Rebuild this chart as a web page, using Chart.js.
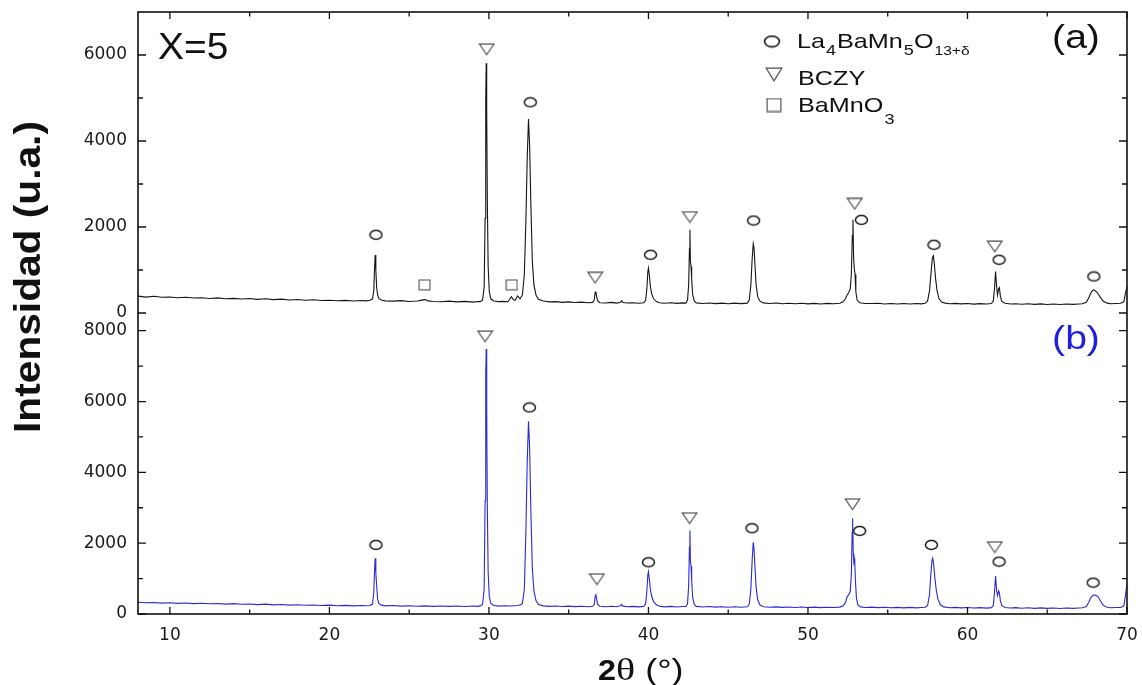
<!DOCTYPE html>
<html>
<head>
<meta charset="utf-8">
<script src="https://cdn.jsdelivr.net/npm/chart.js@4.4.1/dist/chart.umd.min.js"></script>
<style>
html,body{margin:0;padding:0;background:#fff;}
#wrap{position:relative;width:1142px;height:685px;}
canvas{display:block;}
</style>
</head>
<body>
<div id="wrap"><canvas id="c" width="1142" height="685"></canvas></div>
<script>
// ---- Data (2θ in degrees, intensity in a.u.) ----
const patternA = [
[8.0,392],[8.5,370],[9.0,388],[9.5,366],[10.0,372],[10.5,354],[11.0,366],[11.5,348],[12.0,356],[12.5,338],
[13.0,352],[13.5,332],[14.0,340],[14.5,326],[15.0,336],[15.5,318],[16.0,330],[16.5,310],[17.0,322],[17.5,302],
[18.0,314],[18.5,296],[19.0,308],[19.5,290],[20.0,298],[20.5,284],[21.0,294],[21.5,280],[22.0,290],[22.3,282],
[22.55,295],[22.70,330],[22.78,520],[22.83,1050],[22.87,1350],[22.91,1000],[22.96,600],[23.02,420],[23.10,340],[23.25,300],
[23.5,282],[24.0,276],[24.5,288],[25.0,268],[25.5,280],[25.8,300],[26.0,312],[26.2,282],[26.5,268],[27.0,262],
[27.5,276],[28.0,258],[28.5,270],[29.0,254],[29.3,266],[29.45,265],[29.6,300],[29.7,600],[29.76,2200],[29.80,5000],
[29.83,5810],[29.86,4700],[29.90,2600],[29.95,1100],[30.02,500],[30.12,330],[30.3,280],[30.6,264],[30.9,270],[31.2,262],
[31.4,380],[31.55,305],[31.65,300],[31.8,395],[31.95,330],[32.10,420],[32.22,900],[32.32,2200],[32.40,3600],[32.48,4510],
[32.55,3900],[32.63,2500],[32.72,1200],[32.82,650],[32.95,420],[33.1,320],[33.4,280],[33.8,258],[34.2,264],[34.6,248],
[35.0,258],[35.4,244],[35.8,254],[36.2,240],[36.5,246],[36.6,300],[36.66,480],[36.70,500],[36.75,380],[36.82,280],
[36.95,240],[37.3,232],[37.7,246],[38.0,230],[38.25,250],[38.32,285],[38.4,245],[38.7,232],[39.0,240],[39.4,228],
[39.7,240],[39.82,290],[39.9,560],[39.96,950],[40.0,1045],[40.05,900],[40.12,620],[40.2,450],[40.32,330],[40.5,265],
[40.7,240],[41.0,228],[41.4,240],[41.8,224],[42.1,236],[42.35,230],[42.45,300],[42.52,650],[42.57,1500],[42.60,1935],
[42.63,1200],[42.67,1080],[42.71,800],[42.77,430],[42.87,280],[43.0,235],[43.4,222],[43.8,234],[44.2,218],[44.6,230],
[45.0,216],[45.4,230],[45.8,218],[46.2,230],[46.32,300],[46.42,650],[46.50,1250],[46.57,1610],[46.62,1500],[46.68,1100],
[46.75,650],[46.85,380],[46.98,280],[47.2,235],[47.6,220],[48.0,232],[48.4,216],[48.8,228],[49.2,214],[49.6,226],
[50.0,212],[50.4,224],[50.8,210],[51.2,224],[51.6,214],[52.0,225],[52.2,260],[52.35,330],[52.45,420],[52.55,470],
[52.65,560],[52.72,900],[52.78,1800],[52.82,2170],[52.86,1300],[52.90,1050],[52.95,900],[53.0,500],[53.08,300],[53.25,240],
[53.6,222],[54.0,220],[54.4,226],[54.8,210],[55.2,222],[55.6,208],[56.0,220],[56.4,208],[56.8,222],[57.1,212],
[57.35,225],[57.5,280],[57.62,520],[57.72,950],[57.80,1280],[57.86,1330],[57.92,1150],[58.0,800],[58.1,500],[58.22,330],
[58.4,250],[58.6,230],[58.9,216],[59.2,224],[59.6,212],[60.0,222],[60.4,206],[60.8,218],[61.2,208],[61.5,220],
[61.62,280],[61.7,600],[61.76,967],[61.82,650],[61.88,420],[61.95,560],[62.0,590],[62.06,400],[62.15,270],[62.35,225],
[62.7,210],[63.0,216],[63.4,204],[63.8,214],[64.2,200],[64.6,212],[65.0,198],[65.4,210],[65.8,196],[66.2,208],
[66.6,200],[67.0,210],[67.2,215],[67.45,250],[67.6,350],[67.75,480],[67.9,541],[68.0,520],[68.15,470],[68.3,380],
[68.5,280],[68.75,230],[69.0,216],[69.3,222],[69.6,225],[69.8,260],[69.9,450],[70.0,620]
];
const patternB = [
[8.0,330],[8.5,316],[9.0,326],[9.5,306],[10.0,318],[10.5,300],[11.0,310],[11.5,292],[12.0,304],[12.5,288],
[13.0,298],[13.5,280],[14.0,292],[14.5,274],[15.0,284],[15.5,266],[16.0,278],[16.5,258],[17.0,270],[17.5,252],
[18.0,262],[18.5,246],[19.0,256],[19.5,240],[20.0,250],[20.5,234],[21.0,244],[21.5,230],[22.0,240],[22.3,232],
[22.55,240],[22.70,280],[22.78,600],[22.83,1250],[22.87,1575],[22.91,1150],[22.96,820],[23.02,420],[23.10,300],[23.25,250],
[23.5,230],[24.0,238],[24.5,222],[25.0,232],[25.5,218],[26.0,230],[26.5,216],[27.0,228],[27.5,214],[28.0,226],
[28.5,212],[29.0,224],[29.3,216],[29.45,230],[29.6,270],[29.7,700],[29.76,3200],[29.80,6800],[29.83,7480],[29.86,5800],
[29.90,3000],[29.95,1200],[30.02,500],[30.12,300],[30.3,240],[30.6,222],[31.0,232],[31.4,224],[31.8,240],[32.0,260],
[32.1,300],[32.22,700],[32.32,2400],[32.40,4300],[32.48,5440],[32.55,4700],[32.63,2900],[32.72,1300],[32.82,650],[32.95,380],
[33.1,270],[33.4,230],[33.8,214],[34.2,226],[34.6,210],[35.0,222],[35.4,208],[35.8,220],[36.2,206],[36.5,220],
[36.6,260],[36.66,500],[36.70,565],[36.75,420],[36.82,270],[36.95,220],[37.3,206],[37.7,220],[38.0,204],[38.25,230],
[38.32,270],[38.4,222],[38.7,206],[39.0,214],[39.4,202],[39.7,215],[39.82,280],[39.9,650],[39.96,1100],[40.0,1196],
[40.05,1000],[40.12,700],[40.2,500],[40.32,350],[40.5,260],[40.7,220],[41.0,202],[41.4,214],[41.8,198],[42.1,210],
[42.35,212],[42.45,290],[42.52,800],[42.57,1900],[42.60,2355],[42.63,1500],[42.67,1350],[42.71,950],[42.77,480],[42.87,270],
[43.0,215],[43.4,198],[43.8,210],[44.2,194],[44.6,206],[45.0,192],[45.4,204],[45.8,190],[46.2,205],[46.32,280],
[46.42,700],[46.50,1500],[46.57,2027],[46.62,1850],[46.68,1300],[46.75,750],[46.85,400],[46.98,260],[47.2,205],[47.6,190],
[48.0,202],[48.4,186],[48.8,198],[49.2,184],[49.6,196],[50.0,182],[50.4,194],[50.8,180],[51.2,192],[51.6,182],
[52.0,195],[52.2,230],[52.35,320],[52.45,480],[52.55,540],[52.65,640],[52.72,1100],[52.77,2300],[52.80,2705],[52.84,1700],
[52.88,1450],[52.93,1527],[52.98,900],[53.04,450],[53.12,260],[53.3,200],[53.6,184],[54.0,194],[54.4,180],[54.8,190],
[55.2,176],[55.6,188],[56.0,174],[56.4,186],[56.8,172],[57.1,184],[57.35,190],[57.5,240],[57.62,550],[57.70,1100],
[57.77,1500],[57.82,1574],[57.88,1400],[57.96,1000],[58.05,650],[58.15,420],[58.3,260],[58.5,200],[58.9,178],[59.2,186],
[59.6,172],[60.0,182],[60.4,168],[60.8,180],[61.2,166],[61.5,180],[61.62,240],[61.7,650],[61.76,1074],[61.82,700],
[61.88,520],[61.95,650],[62.0,600],[62.06,380],[62.15,240],[62.35,185],[62.7,170],[63.0,180],[63.4,164],[63.8,176],
[64.2,160],[64.6,172],[65.0,158],[65.4,170],[65.8,156],[66.2,168],[66.6,158],[67.0,170],[67.2,175],[67.45,210],
[67.6,330],[67.75,480],[67.9,537],[68.05,530],[68.2,480],[68.35,360],[68.5,250],[68.75,190],[69.0,176],[69.3,184],
[69.6,185],[69.8,230],[69.9,520],[70.0,848]
];
// Phase markers: [2θ, intensity position]
const circlesA   = [[22.92,1819],[32.59,4901],[40.13,1354],[46.59,2151],[53.35,2167],[57.9,1587],[61.98,1238],[67.92,850]];
const trianglesA = [[29.86,6132],[36.66,820],[42.6,2230],[52.93,2539],[61.71,1547]];
const squaresA   = [[25.96,655],[31.43,655]];
const circlesB   = [[22.92,1951],[32.54,5832],[40.0,1461],[46.49,2422],[53.24,2346],[57.74,1951],[61.98,1479],[67.88,885]];
const trianglesB = [[29.76,7839],[36.77,981],[42.58,2705],[52.79,3101],[61.71,1885]];
// Axis ranges and ticks
const xRange = [8, 70];
const yRangeA = [0, 7000];
const yRangeB = [0, 8500];
const xMajor = [10,20,30,40,50,60,70];
const xMinor = [15,25,35,45,55,65];
const yMajorA = [0,2000,4000,6000];
const yMinorA = [1000,3000,5000];
const yMajorB = [0,2000,4000,6000,8000];
const yMinorB = [1000,3000,5000,7000];
const legendLabels = ['La4BaMn5O13+δ', 'BCZY', 'BaMnO3'];

// ---- marker sprites (style only) ----
function makeCircle(w, h, lw, col) {
  const c = document.createElement('canvas'); c.width = w; c.height = h;
  const g = c.getContext('2d'); g.strokeStyle = col; g.lineWidth = lw;
  g.beginPath(); g.ellipse(w/2, h/2, w/2 - lw, h/2 - lw, 0, 0, Math.PI*2); g.stroke();
  return c;
}
function makeTri(w, h, lw, col) {
  const c = document.createElement('canvas'); c.width = w; c.height = h;
  const g = c.getContext('2d'); g.strokeStyle = col; g.lineWidth = lw; g.lineJoin = 'miter';
  g.beginPath(); g.moveTo(lw, lw); g.lineTo(w - lw, lw); g.lineTo(w/2, h - lw); g.closePath(); g.stroke();
  return c;
}
function makeSq(w, h, lw, col) {
  const c = document.createElement('canvas'); c.width = w; c.height = h;
  const g = c.getContext('2d'); g.strokeStyle = col; g.lineWidth = lw;
  g.strokeRect(lw/2 + 0.5, lw/2 + 0.5, w - lw - 1, h - lw - 1);
  return c;
}
const circImg = makeCircle(15, 12, 1.5, '#1a1a1a');
const triImg  = makeTri(17, 13, 1.1, '#4a4a4a');
const sqImg   = makeSq(13, 12, 1.1, '#555');
const circLeg = makeCircle(18, 14, 1.6, '#1a1a1a');
const triLeg  = makeTri(18, 15, 1.2, '#4a4a4a');
const sqLeg   = makeSq(16, 15, 1.2, '#555');

const toXY = arr => arr.map(p => ({x: p[0], y: p[1]}));
const lineDs = (data, axis, color) => ({data: toXY(data), yAxisID: axis, showLine: true, borderColor: color,
  borderWidth: 1.1, pointRadius: 0, fill: false, tension: 0, order: 2});
const markDs = (data, axis, img) => ({data: toXY(data), yAxisID: axis, showLine: false, pointStyle: img,
  pointRadius: 6, pointHoverRadius: 6, order: 1});

function stretchText(ctx, txt, x, y, font, color, sx, align) {
  ctx.save(); ctx.font = font; ctx.fillStyle = color; ctx.textBaseline = 'alphabetic';
  ctx.translate(x, y); ctx.scale(sx, 1); ctx.textAlign = align || 'left';
  ctx.fillText(txt, 0, 0);
  const w = ctx.measureText(txt).width * sx;
  ctx.restore();
  return w;
}

const decor = {
  id: 'decor',
  afterDraw(chart) {
    const ctx = chart.ctx;
    const xs = chart.scales.x, ya = chart.scales.yA, yb = chart.scales.yB;
    const L = chart.chartArea.left, R = chart.chartArea.right, T = chart.chartArea.top, B = chart.chartArea.bottom;
    ctx.save();
    ctx.strokeStyle = '#111'; ctx.lineWidth = 1.6;
    ctx.strokeRect(L, T, R - L, B - T);
    ctx.lineWidth = 1.3;
    const hTick = (y, len) => { ctx.beginPath(); ctx.moveTo(L, y); ctx.lineTo(L + len, y); ctx.moveTo(R, y); ctx.lineTo(R - len, y); ctx.stroke(); };
    const vTick = (x, len) => { ctx.beginPath(); ctx.moveTo(x, T); ctx.lineTo(x, T + len); ctx.moveTo(x, B); ctx.lineTo(x, B - len); ctx.stroke(); };
    yMajorA.forEach(v => hTick(ya.getPixelForValue(v), 8));
    yMinorA.forEach(v => hTick(ya.getPixelForValue(v), 5));
    yMajorB.forEach(v => hTick(yb.getPixelForValue(v), 8));
    yMinorB.forEach(v => hTick(yb.getPixelForValue(v), 5));
    xMajor.forEach(v => vTick(xs.getPixelForValue(v), 7));
    xMinor.forEach(v => vTick(xs.getPixelForValue(v), 4.5));
    ctx.restore();

    // panel labels
    stretchText(ctx, 'X=5', 158, 59, '36px "Liberation Sans", Arial, sans-serif', '#111', 1.08);
    stretchText(ctx, '(a)', 1076, 48, '34px "Liberation Sans", Arial, sans-serif', '#111', 1.15, 'center');
    stretchText(ctx, '(b)', 1076, 349, '34px "Liberation Sans", Arial, sans-serif', '#1f1fe0', 1.15, 'center');

    // legend
    ctx.drawImage(circLeg, 772 - 9, 41.5 - 7);
    ctx.drawImage(triLeg, 774 - 9, 74.5 - 7.5);
    ctx.drawImage(sqLeg, 774 - 8, 105 - 7.5);
    const f1 = '21px "Liberation Sans", Arial, sans-serif';
    const fs = '15px "Liberation Sans", Arial, sans-serif';
    const fss = '13px "Liberation Sans", Arial, sans-serif';
    const sx = 1.2;
    let x = 797;
    x += stretchText(ctx, 'La', x, 48, f1, '#111', sx);
    x += stretchText(ctx, '4', x + 1, 55, fs, '#111', sx) + 1;
    x += stretchText(ctx, 'BaMn', x + 1, 48, f1, '#111', sx) + 1;
    x += stretchText(ctx, '5', x + 1, 55, fs, '#111', sx) + 1;
    x += stretchText(ctx, 'O', x, 48, f1, '#111', sx);
    stretchText(ctx, '13+δ', x + 1, 55, fss, '#111', sx);
    stretchText(ctx, legendLabels[1], 798, 85, f1, '#111', sx);
    x = 798;
    x += stretchText(ctx, 'BaMnO', x, 112, f1, '#111', sx);
    stretchText(ctx, '3', x + 1, 124, fs, '#111', sx);

    // axis titles
    ctx.save();
    ctx.translate(40, 277); ctx.rotate(-Math.PI/2); ctx.scale(1.13, 1);
    ctx.font = 'bold 36px "Liberation Sans", Arial, sans-serif'; ctx.fillStyle = '#111';
    ctx.textAlign = 'center'; ctx.textBaseline = 'alphabetic';
    ctx.fillText('Intensidad (u.a.)', 0, 0);
    ctx.restore();

    let tx = 598;
    tx += stretchText(ctx, '2', tx, 680, 'bold 30px "Liberation Sans", Arial, sans-serif', '#111', 1.08);
    tx += stretchText(ctx, 'θ', tx, 680, '32px "Liberation Serif", "Times New Roman", serif', '#111', 1.25);
    stretchText(ctx, ' (°)', tx, 680, '30px "Liberation Sans", Arial, sans-serif', '#111', 1.2);
  }
};

const tickFont = {family: '"DejaVu Sans", sans-serif', size: 17};
const setTicks = vals => (s => { s.ticks = vals.map(v => ({value: v})); });
const noPad = s => { s.paddingTop = 0; s.paddingBottom = 0; s.paddingLeft = 0; s.paddingRight = 0; };
new Chart(document.getElementById('c'), {
  type: 'scatter',
  data: {
    datasets: [
      lineDs(patternA, 'yA', '#151515'),
      lineDs(patternB, 'yB', '#2a2ad2'),
      markDs(circlesA, 'yA', circImg),
      markDs(trianglesA, 'yA', triImg),
      markDs(squaresA, 'yA', sqImg),
      markDs(circlesB, 'yB', circImg),
      markDs(trianglesB, 'yB', triImg)
    ]
  },
  options: {
    responsive: false, animation: false, devicePixelRatio: 1,
    layout: {autoPadding: false, padding: {left: 0, right: 15, top: 12, bottom: 0}},
    plugins: {legend: {display: false}, tooltip: {enabled: false}},
    events: [],
    scales: {
      x: {
        type: 'linear', position: 'bottom', min: xRange[0], max: xRange[1],
        grid: {display: false, drawTicks: false}, border: {display: false},
        afterBuildTicks: setTicks(xMajor),
        ticks: {padding: 11, font: tickFont, color: '#1a1a1a', maxRotation: 0, autoSkip: false, callback: v => String(v)},
        afterFit: s => { s.height = 71; noPad(s); }
      },
      yB: {
        type: 'linear', position: 'left', stack: 'panels', stackWeight: 1, min: yRangeB[0], max: yRangeB[1],
        grid: {display: false, drawTicks: false}, border: {display: false},
        afterBuildTicks: setTicks(yMajorB),
        ticks: {padding: 11, font: tickFont, color: '#1a1a1a', autoSkip: false, callback: v => String(v)},
        afterFit: s => { s.width = 138; noPad(s); }
      },
      yA: {
        type: 'linear', position: 'left', stack: 'panels', stackWeight: 1, min: yRangeA[0], max: yRangeA[1],
        grid: {display: false, drawTicks: false}, border: {display: false},
        afterBuildTicks: setTicks(yMajorA),
        ticks: {padding: 11, font: tickFont, color: '#1a1a1a', autoSkip: false, callback: v => String(v)},
        afterFit: s => { s.width = 138; noPad(s); }
      }
    }
  },
  plugins: [decor]
});
</script>
</body>
</html>
